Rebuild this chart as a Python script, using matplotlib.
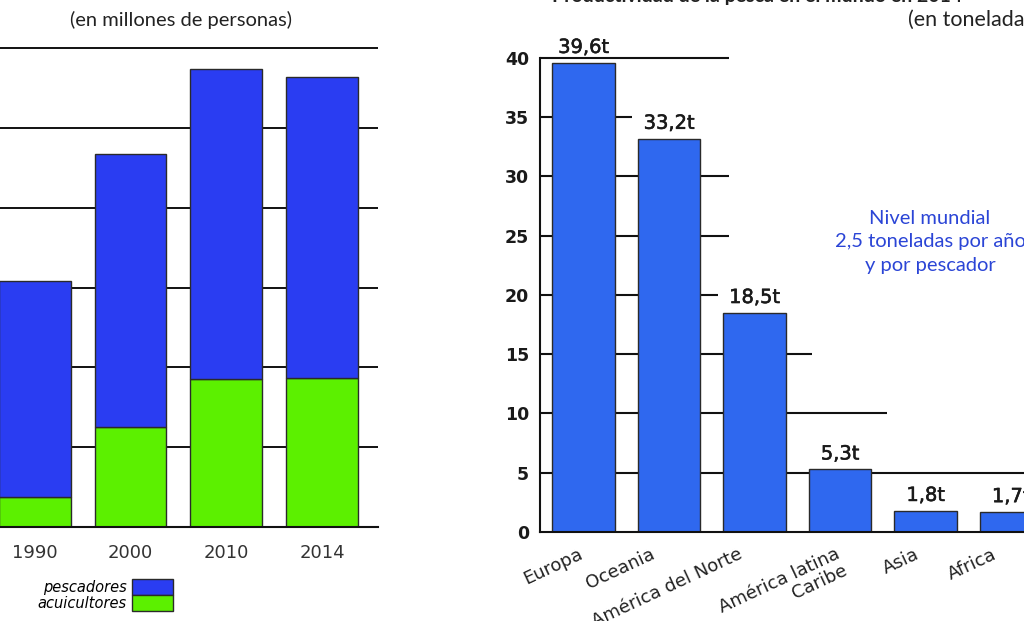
import matplotlib
import matplotlib.pyplot as plt
import matplotlib.patheffects as pe
from matplotlib.patches import Patch

matplotlib.use("Agg")

# left panel: workers (millions)
years = ["1990", "2000", "2010", "2014"]
pescadores = [27.0, 34.2, 38.9, 37.7]
acuicultores = [3.8, 12.5, 18.5, 18.7]
left_ticks = [10, 20, 30, 40, 50, 60]

# right panel: productivity (tonnes per fisher)
regiones = ["Europa", "Oceania", "América del Norte", "América latina\nCaribe", "Asia", "Africa"]
toneladas = [39.6, 33.2, 18.5, 5.3, 1.8, 1.7]
right_ticks = [0, 5, 10, 15, 20, 25, 30, 35, 40]

BLUE = "#2a3df2"
GREEN = "#5cf000"
BLUE2 = "#2f68ef"
EDGE = "#2a2a2a"
W, H = 1024, 621


def fx(px):
    return px / W


def fy(py):
    return 1 - py / H


semibold = [pe.withStroke(linewidth=0.4, foreground="#1a1a1a")]

fig = plt.figure(figsize=(10.24, 6.21), dpi=100)

# ---------------- left chart ----------------
axl = fig.add_axes([0, fy(527), fx(378), (527 - 41) / H])
xs = list(range(len(years)))
axl.bar(xs, acuicultores, width=0.75, color=GREEN, edgecolor=EDGE, linewidth=1, zorder=2)
axl.bar(xs, pescadores, width=0.75, bottom=acuicultores, color=BLUE,
        edgecolor=EDGE, linewidth=1, zorder=2)
for t in left_ticks:
    axl.axhline(t, color="#111111", linewidth=1.4, zorder=0)
axl.set_xlim(-0.36, 3.58)
axl.set_ylim(0, 60.9)
axl.set_yticks([])
axl.set_xticks(xs)
axl.set_xticklabels(years, fontsize=13, color="#333333", family="DejaVu Sans")
axl.tick_params(axis="x", length=0, pad=12)
for s in ["left", "top", "right"]:
    axl.spines[s].set_visible(False)
axl.spines["bottom"].set_linewidth(1.5)
axl.spines["bottom"].set_color("#111111")

handles = [Patch(facecolor=BLUE, edgecolor=EDGE, label="pescadores"),
           Patch(facecolor=GREEN, edgecolor=EDGE, label="acuicultores")]
fig.legend(handles=handles, loc="upper right", bbox_to_anchor=(fx(173), fy(579)),
           frameon=False, markerfirst=False, borderpad=0, borderaxespad=0,
           handlelength=2.8, handleheight=1.3, labelspacing=0.0, handletextpad=0.4,
           prop={"family": "DejaVu Sans", "style": "oblique", "size": 10.5})

fig.text(fx(181), fy(20), "(en millones de personas)", family="Lato", fontsize=14.5,
         ha="center", va="center", color="#222222")
fig.text(fx(0), fy(-3), "Número de pescadores y acuicultores en el mundo",
         family="Lato", fontweight="bold", fontsize=14, ha="left", va="baseline",
         color="#222222")

# ---------------- right chart ----------------
axr = fig.add_axes([fx(540), fy(532), 1 - fx(540), (532 - 52) / H])
xr = list(range(len(regiones)))
bars = axr.bar(xr, toneladas, width=0.73, color=BLUE2, edgecolor=EDGE, linewidth=1, zorder=2)
axr.set_xlim(-0.51, 5.15)
axr.set_ylim(0, 40.5)

# staircase gridlines (end positions in data units)
grid_ends = {5: 5.3, 10: 3.55, 15: 2.67, 20: 1.57, 25: 1.70, 30: 1.70, 35: 0.57, 40: 1.70}
for t, end in grid_ends.items():
    axr.hlines(t, -0.51, end, color="#111111", linewidth=1.5, zorder=0)

for rect, v in zip(bars, toneladas):
    axr.annotate(f"{v:.1f}".replace(".", ",") + "t",
                 (rect.get_x() + rect.get_width() / 2, v),
                 xytext=(0, 7), textcoords="offset points", ha="center", va="baseline",
                 fontsize=14, family="DejaVu Sans", color="#1a1a1a", annotation_clip=False,
                 path_effects=semibold)

label_dx = [-0.06, -0.22, -0.2, -0.06, -0.13, -0.23]
for i, (name, dx) in enumerate(zip(regiones, label_dx)):
    axr.text(i + dx, -1.1, name, ha="right", va="top", rotation=25, rotation_mode="anchor",
             multialignment="right", fontsize=13, family="DejaVu Sans", color="#222222",
             clip_on=False, linespacing=1.0)

axr.set_xticks([])
axr.set_yticks(right_ticks)
axr.set_yticklabels([str(t) for t in right_ticks], fontsize=12.5, fontweight="bold",
                    family="DejaVu Sans", color="#1a1a1a")
axr.tick_params(axis="y", length=0, pad=8)
for s in ["top", "right"]:
    axr.spines[s].set_visible(False)
axr.spines["left"].set_bounds(0, 40)
for s in ["left", "bottom"]:
    axr.spines[s].set_linewidth(1.5)
    axr.spines[s].set_color("#111111")

axr.text(fx(930 - 540) / (1 - fx(540)), (532 - 242) / 480,
         "Nivel mundial\n2,5 toneladas por año\ny por pescador",
         transform=axr.transAxes, ha="center", va="center", fontsize=14.5, family="Lato",
         color="#2b45d6", linespacing=1.45, clip_on=False)

fig.text(fx(908), fy(20), "(en toneladas)", family="Lato", fontsize=15.5,
         ha="left", va="center", color="#222222")
fig.text(fx(552), fy(2), "Productividad de la pesca en el mundo en 2014",
         family="Lato", fontweight="bold", fontsize=14, ha="left", va="baseline",
         color="#222222")

fig.savefig("out.png", dpi=100)
